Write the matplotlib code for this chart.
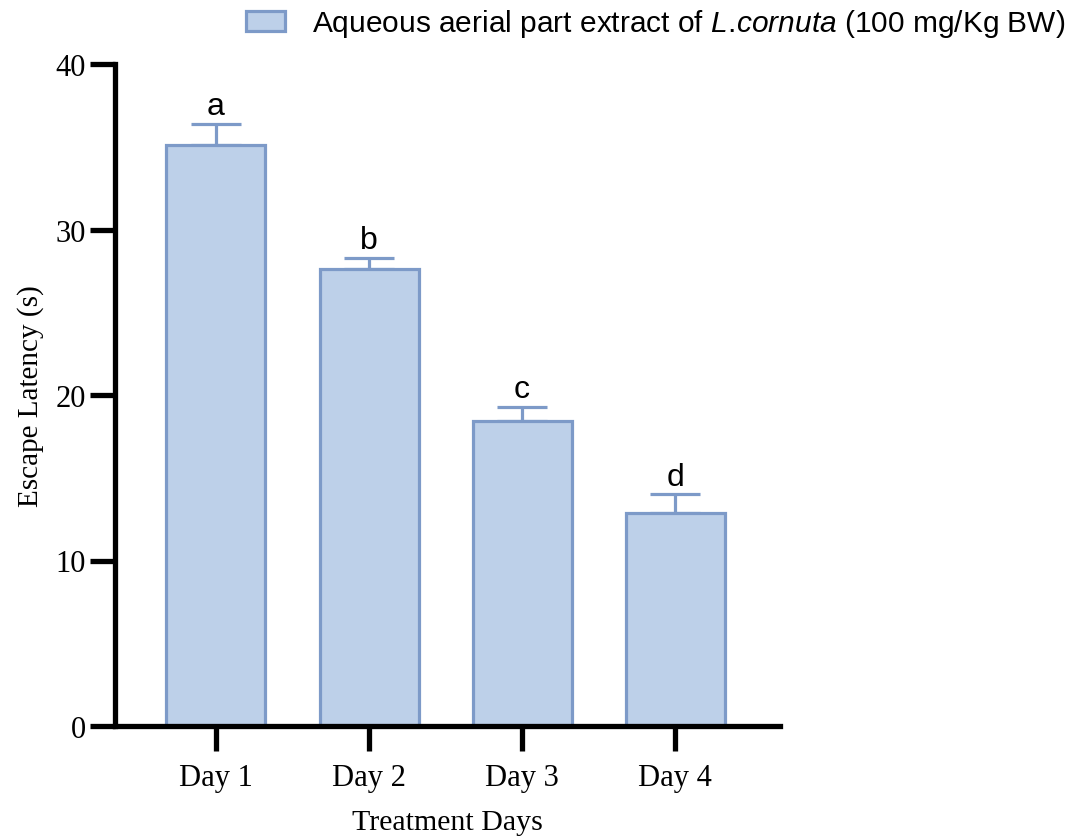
import matplotlib
matplotlib.use("Agg")
import matplotlib.pyplot as plt
from matplotlib.patches import Patch

plt.rcParams["mathtext.fontset"] = "custom"
plt.rcParams["mathtext.it"] = "Liberation Sans:italic"
plt.rcParams["mathtext.rm"] = "Liberation Sans"

days = ["Day 1", "Day 2", "Day 3", "Day 4"]
means = [35.1, 27.6, 18.4, 12.9]
errors = [1.3, 0.7, 0.9, 1.1]
letters = ["a", "b", "c", "d"]
yticks = [0, 10, 20, 30, 40]

fill = "#BDD0E9"
edge = "#7D9AC8"

fig = plt.figure(figsize=(10.89, 8.37), dpi=100)
W, H = 1089, 837
ax = fig.add_axes([115 / W, 1 - 727 / H, (780 - 115) / W, (727 - 65) / H])

x = list(range(len(days)))
ax.bar(x, means, width=0.647, color=fill, edgecolor=edge, linewidth=2.3, zorder=2)
ax.errorbar(x, means, yerr=[[0] * len(errors), errors], fmt="none", ecolor=edge,
            elinewidth=2.3, capsize=18, capthick=2.3, zorder=1)
for xi, m, e, l in zip(x, means, errors, letters):
    ax.text(xi, m + e + 0.15, l, ha="center", va="bottom", fontsize=23,
            family="Liberation Sans")

ax.set_xlim(-0.66, 3.686)
ax.set_ylim(0, 40)
ax.set_yticks(yticks)
ax.set_xticks(x)
ax.set_xticklabels(days)
for s in ["top", "right"]:
    ax.spines[s].set_visible(False)
for s in ["left", "bottom"]:
    ax.spines[s].set_linewidth(3.8)
ax.tick_params(axis="both", width=3.8, length=18, labelsize=22)
ax.tick_params(axis="x", pad=9)
ax.tick_params(axis="y", pad=3)
for lab in ax.get_xticklabels() + ax.get_yticklabels():
    lab.set_family("Liberation Serif")
ax.set_ylabel("Escape Latency (s)", family="Liberation Serif", fontsize=21, labelpad=8)
ax.set_xlabel("Treatment Days", family="Liberation Serif", fontsize=21.5, labelpad=12)

handle = Patch(facecolor=fill, edgecolor=edge, linewidth=2.3)
leg = fig.legend([handle], ["Aqueous aerial part extract of $\\mathit{L.\\!cornuta}$ (100 mg/Kg BW)"],
                 loc="upper right", bbox_to_anchor=(1.003, 1.022), frameon=False,
                 prop={"family": "Liberation Sans", "size": 21.5},
                 handlelength=1.3, handleheight=0.7, handletextpad=0.9)

fig.savefig("out.png", dpi=100)
